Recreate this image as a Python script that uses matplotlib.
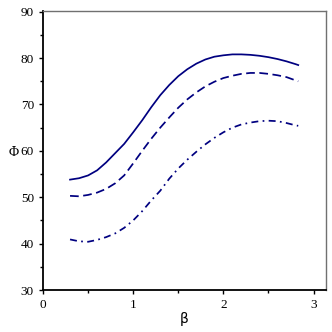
import numpy as np
import matplotlib.pyplot as plt
from matplotlib.ticker import MultipleLocator

beta = [0.3, 0.4, 0.5, 0.6, 0.7, 0.8, 0.9, 1.0, 1.1, 1.2, 1.3, 1.4, 1.5, 1.6,
        1.7, 1.8, 1.9, 2.0, 2.1, 2.2, 2.3, 2.4, 2.5, 2.6, 2.7, 2.8, 2.83]
phi_solid = [53.8, 54.1, 54.7, 55.8, 57.5, 59.5, 61.5, 64.0, 66.6, 69.4, 72.0, 74.2, 76.1, 77.6,
             78.8, 79.7, 80.3, 80.6, 80.8, 80.8, 80.7, 80.5, 80.2, 79.8, 79.3, 78.7, 78.5]
phi_dash = [50.3, 50.2, 50.5, 51.0, 51.8, 53.0, 54.7, 57.3, 60.0, 62.6, 65.0, 67.2, 69.3, 71.1,
            72.6, 73.9, 74.9, 75.7, 76.2, 76.6, 76.8, 76.8, 76.6, 76.3, 75.9, 75.2, 75.0]
phi_dashdot = [40.9, 40.5, 40.4, 40.8, 41.4, 42.2, 43.4, 45.0, 47.0, 49.3, 51.4, 54.0, 56.2, 58.1,
               59.8, 61.4, 62.8, 64.0, 65.0, 65.7, 66.1, 66.4, 66.5, 66.4, 66.0, 65.5, 65.4]

col = '#000080'
fig = plt.figure(figsize=(3.32, 3.32), dpi=100)
ax = fig.add_axes([0.1295, 0.1265, 0.853, 0.841])
ax.plot(beta, phi_solid, color=col, lw=1.25)
ax.plot(beta, phi_dash, color=col, lw=1.25, dashes=(5, 2.6))
ax.plot(beta, phi_dashdot, color=col, lw=1.25, dashes=(4, 2.5, 1, 2.5))

ax.set_xlim(0, 3.14)
ax.set_ylim(30, 90.2)
ax.xaxis.set_major_locator(MultipleLocator(1))
ax.xaxis.set_minor_locator(MultipleLocator(0.5))
ax.yaxis.set_major_locator(MultipleLocator(10))
ax.yaxis.set_minor_locator(MultipleLocator(5))
ax.tick_params(which='major', length=3, width=1, labelsize=9.5)
ax.tick_params(which='minor', length=2, width=1)
for lab in ax.get_xticklabels() + ax.get_yticklabels():
    lab.set_family('Liberation Serif')
for s in ['left', 'bottom']:
    ax.spines[s].set_linewidth(1.3)
    ax.spines[s].set_color('black')
for s in ['top', 'right']:
    ax.spines[s].set_linewidth(1.0)
    ax.spines[s].set_color('#707070')

fig.text(0.042, 0.542, 'Φ', family='Liberation Serif', fontsize=10, ha='center', va='center')
fig.text(0.555, 0.04, 'β', family='DejaVu Sans', fontsize=10, ha='center', va='center')

fig.savefig('out.png', dpi=100)
